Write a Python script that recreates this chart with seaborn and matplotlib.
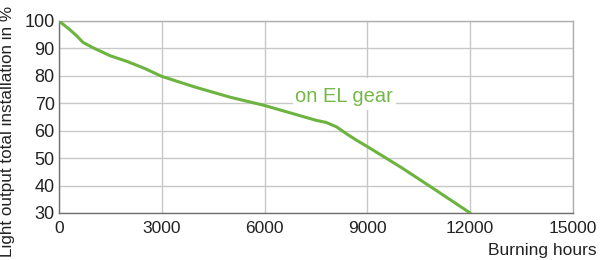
import matplotlib
matplotlib.use("Agg")
import matplotlib.pyplot as plt
import matplotlib.patches as mpatches
import seaborn as sns
import pandas as pd

hours = [0, 150, 300, 500, 700, 1000, 1500, 2000, 2500, 3000, 4000, 5000, 6000, 7000, 7500, 7800, 8100, 8400, 8700, 9000, 10000, 11000, 12000]
light = [100, 98.5, 97, 94.8, 92.2, 90.2, 87.3, 85.2, 82.7, 79.8, 75.8, 72.2, 69.2, 65.6, 63.8, 63.0, 61.4, 58.8, 56.4, 54.2, 46.5, 38.3, 30]
xticks = [0, 3000, 6000, 9000, 12000, 15000]
yticks = [30, 40, 50, 60, 70, 80, 90, 100]
label = "on EL gear"

sns.set_theme(style="white")
plt.rcParams['font.family'] = ['Liberation Sans', 'DejaVu Sans']

fig = plt.figure(figsize=(6, 2.6), dpi=100)
ax = fig.add_axes([59/600, 1-213/260, (573-59)/600, (213-21)/260])
df = pd.DataFrame({"hours": hours, "light": light})
sns.lineplot(data=df, x="hours", y="light", ax=ax, color="#6cb33f", linewidth=2.2, zorder=4)

ax.set_xlim(0, 15000)
ax.set_ylim(30, 100)
ax.set_xticks(xticks)
ax.set_yticks(yticks)
ax.set_xticklabels([str(t) for t in xticks])
ax.set_yticklabels([str(t) for t in yticks])
ax.tick_params(axis='both', colors="#222222", length=0)
ax.tick_params(axis='x', pad=6, labelsize=12.5)
ax.tick_params(axis='y', pad=3, labelsize=13)
ax.grid(True, color="#c8c8c8", linewidth=1)
ax.set_axisbelow(True)
for s in ax.spines.values():
    s.set_color("#b0b0b0")
    s.set_linewidth(1)
ax.spines['left'].set_color("#707070")
ax.spines['bottom'].set_color("#707070")
ax.set_xlabel("")
ax.set_ylabel("")

# white background box behind the annotation
ax.add_patch(mpatches.Rectangle((6830, 67.5), 3000, 11.7, facecolor="white",
                                edgecolor="none", zorder=2))
ax.text(6880, 70.6, label, color="#74b84a", fontsize=14.5, va="baseline", ha="left", zorder=3)

fig.text(0.0, 1-257/260, "Light output total installation in %", rotation=90,
         ha="left", va="bottom", fontsize=12.3, color="#222222")
fig.text(597/600, 1-255/260, "Burning hours", ha="right", va="baseline",
         fontsize=12.5, color="#222222")

fig.savefig("out.png", dpi=100)
